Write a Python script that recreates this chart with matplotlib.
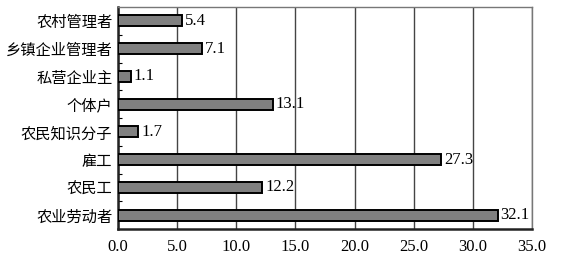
import numpy as np
import matplotlib
matplotlib.use('Agg')
import matplotlib.pyplot as plt
from matplotlib.ticker import FixedLocator

plt.rcParams['font.family'] = ['Liberation Serif', 'Noto Sans CJK SC']

categories = ['农村管理者', '乡镇企业管理者', '私营企业主', '个体户', '农民知识分子', '雇工', '农民工', '农业劳动者']
values = [5.4, 7.1, 1.1, 13.1, 1.7, 27.3, 12.2, 32.1]
xticks = [0, 5, 10, 15, 20, 25, 30, 35]

fig = plt.figure(figsize=(5.66, 2.63), dpi=100)
ax = fig.add_axes([118/566, 1 - 229/263, (532 - 118)/566, (229 - 7)/263])

y = np.arange(len(categories))[::-1]
ax.barh(y, values, height=0.4, color='#808080', edgecolor='black', linewidth=1.4, zorder=3)
for yi, v in zip(y, values):
    ax.text(v + 0.25, yi, f'{v:.1f}', va='center', ha='left', fontsize=12, zorder=4)

ax.set_xlim(0, 35)
ax.set_ylim(-0.5, len(categories) - 0.5)
ax.set_xticks(xticks)
ax.set_xticklabels([f'{t:.1f}' for t in xticks], fontsize=12)
ax.set_yticks(y)
ax.set_yticklabels(categories, fontsize=11, family=['Noto Sans CJK SC'])
ax.yaxis.set_minor_locator(FixedLocator(np.arange(0.5, len(categories) - 1, 1)))
ax.tick_params(axis='y', which='major', length=0, pad=4)
ax.tick_params(axis='y', which='minor', length=3, direction='in', width=0.8)
ax.tick_params(axis='x', length=0, pad=7)

ax.grid(axis='x', color='#444444', linewidth=1.0, zorder=0)
for s in ['left', 'bottom']:
    ax.spines[s].set_linewidth(1.8)
    ax.spines[s].set_color('#222222')
for s in ['top', 'right']:
    ax.spines[s].set_linewidth(1.0)
    ax.spines[s].set_color('#777777')

fig.savefig('out.png', dpi=100)
